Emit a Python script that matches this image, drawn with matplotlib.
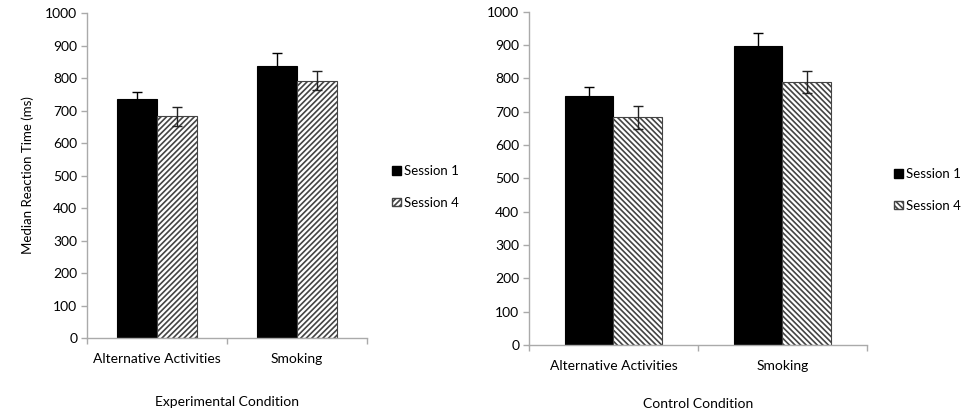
import numpy as np
import matplotlib.pyplot as plt
from matplotlib.patches import Patch

plt.rcParams['font.family'] = ['Lato', 'DejaVu Sans']
plt.rcParams['hatch.linewidth'] = 1.2

categories = ['Alternative Activities', 'Smoking']
sessions = ['Session 1', 'Session 4']

exp_s1 = [734, 838]
exp_s4 = [682, 792]
exp_s1_err = [22, 40]
exp_s4_err = [30, 30]

ctl_s1 = [748, 897]
ctl_s4 = [683, 790]
ctl_s1_err = [27, 38]
ctl_s4_err = [34, 33]

fig = plt.figure(figsize=(9.62, 4.15), dpi=100)
W, H = 962, 415

def panel(rect, s1, s4, e1, e4, hatch, xlabel, xlabel_y, ylabel, leg_xy):
    l, r, t, b = rect
    ax = fig.add_axes([l / W, 1 - b / H, (r - l) / W, (b - t) / H])
    x = np.arange(len(categories))
    w = 0.285
    ax.bar(x - w / 2, s1, w, color='black', edgecolor='black', linewidth=0.8)
    ax.bar(x + w / 2, s4, w, color='white', edgecolor='#444444', hatch=hatch, linewidth=0.8)
    ax.errorbar(x - w / 2, s1, yerr=e1, fmt='none', ecolor='black', capsize=3.5, elinewidth=1, capthick=1)
    ax.errorbar(x + w / 2, s4, yerr=e4, fmt='none', ecolor='#222222', capsize=3.5, elinewidth=1, capthick=1)
    ax.set_xlim(-0.5, len(categories) - 0.5)
    ax.set_ylim(0, 1000)
    ax.set_yticks(np.arange(0, 1001, 100))
    ax.set_xticks(x)
    ax.set_xticklabels(categories, fontsize=10)
    ax.set_xticks([-0.5, 0.5, 1.5], minor=True)
    ax.tick_params(axis='x', which='major', length=0, pad=11)
    ax.tick_params(axis='x', which='minor', length=4, color='#aaaaaa', width=1)
    ax.tick_params(axis='y', length=4, color='#aaaaaa', width=1, labelsize=10, pad=3)
    for s in ['top', 'right']:
        ax.spines[s].set_visible(False)
    for s in ['left', 'bottom']:
        ax.spines[s].set_color('#aaaaaa')
        ax.spines[s].set_linewidth(1)
    fig.text((l + r) / 2 / W, 1 - xlabel_y / H, xlabel, fontsize=10, ha='center', va='center')
    if ylabel:
        ax.set_ylabel(ylabel, fontsize=9.5, labelpad=8)
    handles = [Patch(facecolor='black', edgecolor='black'),
               Patch(facecolor='white', edgecolor='#444444', hatch=hatch)]
    fig.legend(handles, sessions, loc='center left', bbox_to_anchor=(leg_xy[0] / W, 1 - leg_xy[1] / H),
               frameon=False, fontsize=9.5, handlelength=0.65, handleheight=0.65,
               handletextpad=0.25, labelspacing=1.45, borderaxespad=0, borderpad=0)
    return ax

panel((87, 367, 13, 338), exp_s1, exp_s4, exp_s1_err, exp_s4_err, '//////',
      'Experimental Condition', 402, 'Median Reaction Time (ms)', (392, 187))
panel((529, 867, 11.7, 345), ctl_s1, ctl_s4, ctl_s1_err, ctl_s4_err, '\\\\\\\\\\\\',
      'Control Condition', 404, None, (894, 190))

fig.savefig('out.png', dpi=100, facecolor='white')
